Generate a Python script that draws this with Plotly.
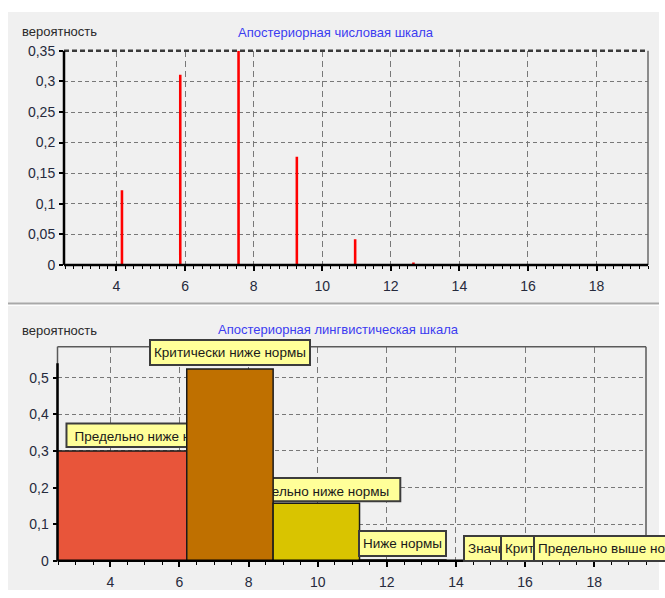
import plotly.graph_objects as go

# ---- posterior numeric scale (spikes) ----
num_x = [4.16, 5.86, 7.56, 9.26, 10.96, 12.66]
num_p = [0.122, 0.311, 0.350, 0.177, 0.042, 0.004]

# ---- posterior linguistic scale (interval bars) ----
terms = [
    "Предельно ниже нормы",
    "Критически ниже нормы",
    "Значительно ниже нормы",
    "Ниже нормы",
    "Значительно выше нормы",
    "Критически выше нормы",
    "Предельно выше нормы",
]
term_bounds = [1.21, 6.21, 8.71, 11.21, 13.71, 16.21, 18.71, 21.21]
term_p = [0.300, 0.524, 0.157, 0.002, 0.0, 0.0, 0.0]

x_ticks = [4, 6, 8, 10, 12, 14, 16, 18]
y_ticks_top = [0, 0.05, 0.1, 0.15, 0.2, 0.25, 0.3, 0.35]
y_ticks_bottom = [0, 0.1, 0.2, 0.3, 0.4, 0.5]

term_colors = ["#E8553A", "#BF7000", "#D9C400", "#9DBB2C", "#5FAF4A", "#3C8F6A", "#2F6F8F"]

W, H = 665, 598
FONT = "Liberation Sans, Arial, sans-serif"
PANEL = "#F0F0F0"
TXT = "#262A3C"
TAG_FILL = "#FFFF99"
TAG_LINE = "#3C3C3C"
TAG_FONT = dict(family=FONT, size=13.5, color="#1A1A1A")


def px_x(p):
    return p / W


def px_y(p):
    return 1 - p / H


def fmt(v):
    return f"{v:g}".replace(".", ",")


centers = [(a + b) / 2 for a, b in zip(term_bounds[:-1], term_bounds[1:])]
widths = [b - a for a, b in zip(term_bounds[:-1], term_bounds[1:])]

fig = go.Figure()

fig.add_trace(go.Bar(
    x=num_x, y=num_p, width=0.075,
    marker=dict(color="#FF0000", line=dict(width=0)),
    xaxis="x", yaxis="y", hoverinfo="x+y",
))

fig.add_trace(go.Bar(
    x=centers, y=term_p, width=widths,
    marker=dict(color=term_colors, line=dict(color="#1A1A1A", width=1.5)),
    xaxis="x2", yaxis="y2", text=terms, hoverinfo="text+y", textposition="none",
))

XR = [2.47, 19.5]
common_x = dict(
    range=XR, tickvals=x_ticks, ticktext=[str(v) for v in x_ticks],
    ticks="outside", ticklen=5, tickwidth=1.5, tickcolor="#000000",
    showline=False, zeroline=False,
    showgrid=True, gridcolor="#787878", gridwidth=1.2, griddash="6px,4px",
    tickfont=dict(family=FONT, size=14, color=TXT),
    ticklabelstandoff=3,
)
common_y = dict(
    ticks="outside", ticklen=4, tickwidth=1.5, tickcolor="#000000",
    showline=False, zeroline=False,
    showgrid=True, gridcolor="#787878", gridwidth=1.2, griddash="4px,3px",
    tickfont=dict(family=FONT, size=14, color=TXT),
    ticklabelstandoff=1,
)

top_dom_x = [px_x(64), px_x(648)]
top_dom_y = [px_y(264), px_y(44)]
bot_dom_x = [px_x(57.5), px_x(646)]
bot_dom_y = [px_y(568), px_y(348)]

fig.update_layout(
    width=W, height=H,
    margin=dict(l=0, r=0, t=0, b=0),
    paper_bgcolor="#FFFFFF",
    plot_bgcolor=PANEL,
    showlegend=False,
    separators=", ",
    xaxis=dict(domain=top_dom_x, anchor="y",
               minor=dict(dtick=0.25, tick0=0, ticks="outside", ticklen=3,
                          tickcolor="#000000", tickwidth=1, showgrid=False),
               **common_x),
    yaxis=dict(domain=top_dom_y, anchor="x", range=[0, 0.35],
               tickvals=y_ticks_top, ticktext=[fmt(v) for v in y_ticks_top],
               **common_y),
    xaxis2=dict(domain=bot_dom_x, anchor="y2",
                minor=dict(dtick=0.5, tick0=0, ticks="outside", ticklen=3,
                           tickcolor="#000000", tickwidth=1, showgrid=False),
                **common_x),
    yaxis2=dict(domain=bot_dom_y, anchor="x2", range=[0, 0.585],
                tickvals=y_ticks_bottom, ticktext=[fmt(v) for v in y_ticks_bottom],
                **common_y),
)

shapes = []
# window panel and separator between the two charts
shapes.append(dict(type="rect", xref="paper", yref="paper", layer="below",
                   x0=px_x(8), x1=px_x(659), y0=px_y(598), y1=px_y(4),
                   fillcolor=PANEL, line=dict(width=0)))
shapes.append(dict(type="line", xref="paper", yref="paper", layer="above",
                   x0=px_x(8), x1=px_x(659), y0=px_y(303.5), y1=px_y(303.5),
                   line=dict(color="#A8A8A8", width=2)))
shapes.append(dict(type="line", xref="paper", yref="paper", layer="above",
                   x0=px_x(8), x1=px_x(659), y0=px_y(305.5), y1=px_y(305.5),
                   line=dict(color="#FFFFFF", width=1)))

# frame of the numeric chart
shapes += [
    dict(type="line", xref="x domain", yref="y domain", x0=0, x1=1, y0=1, y1=1,
         line=dict(color="#3A3A3A", width=2.5, dash="5px,3px"), layer="above"),
    dict(type="line", xref="x domain", yref="y domain", x0=1, x1=1, y0=0, y1=1,
         line=dict(color="#6A6A6A", width=1.5), layer="above"),
    dict(type="line", xref="x domain", yref="y domain", x0=0, x1=0, y0=0, y1=1,
         line=dict(color="#000000", width=2.5), layer="above"),
    dict(type="line", xref="x domain", yref="y domain", x0=0, x1=1, y0=0, y1=0,
         line=dict(color="#000000", width=2.5), layer="above"),
]
# frame of the linguistic chart
shapes += [
    dict(type="line", xref="x2 domain", yref="y2 domain", x0=0, x1=1, y0=1, y1=1,
         line=dict(color="#5A5A5A", width=1.5), layer="above"),
    dict(type="line", xref="x2 domain", yref="y2 domain", x0=1, x1=1, y0=0, y1=1,
         line=dict(color="#5A5A5A", width=1.5), layer="above"),
    dict(type="line", xref="x2 domain", yref="y2 domain", x0=0, x1=0, y0=0, y1=1,
         line=dict(color="#5A5A5A", width=1.5), layer="above"),
    dict(type="line", xref="x2 domain", yref="y2", x0=0, x1=0, y0=0, y1=0.54,
         line=dict(color="#000000", width=2.5), layer="above"),
    dict(type="line", xref="x2 domain", yref="y2 domain", x0=0, x1=1, y0=0, y1=0,
         line=dict(color="#000000", width=2.5), layer="above"),
]

# term tags partly hidden behind neighbouring bars
tag_h = 0.064
tag_gap = 0.011
shapes.append(dict(
    type="rect", xref="x2", yref="y2", layer="between",
    x0=2.73, x1=7.3, y0=term_p[0] + tag_gap, y1=term_p[0] + tag_gap + tag_h,
    fillcolor=TAG_FILL, line=dict(color=TAG_LINE, width=2),
    label=dict(text=terms[0], textposition="middle left", padding=5, font=TAG_FONT),
))
shapes.append(dict(
    type="rect", xref="x2", yref="y2", layer="between",
    x0=7.4, x1=12.39, y0=term_p[2] + tag_gap * 0.5, y1=term_p[2] + tag_gap * 0.5 + tag_h,
    fillcolor=TAG_FILL, line=dict(color=TAG_LINE, width=2),
    label=dict(text=terms[2], textposition="middle right", padding=8, font=TAG_FONT),
))
fig.update_layout(shapes=shapes)

annotations = []
tag_style = dict(bgcolor=TAG_FILL, bordercolor=TAG_LINE, borderwidth=2, borderpad=3,
                 height=17, showarrow=False, font=TAG_FONT)
# tags drawn over everything
for i in (1, 3):
    annotations.append(dict(xref="x2", yref="y2", x=centers[i], y=term_p[i],
                            xanchor="center", yanchor="bottom", yshift=3,
                            text=terms[i], **tag_style))
tag_left = {4: 14.19, 5: 15.28, 6: 16.24}
for i, xl in tag_left.items():
    annotations.append(dict(xref="x2", yref="y2", x=xl, y=term_p[i],
                            xanchor="left", yanchor="bottom", yshift=-1,
                            text=terms[i], **tag_style))

# captions
cap_font = dict(family=FONT, size=13, color="#2A2A2A")
title_font = dict(family=FONT, size=13, color="#3C3CF0")
annotations += [
    dict(xref="paper", yref="paper", x=px_x(20), y=px_y(24), xanchor="left", yanchor="middle",
         text="вероятность", showarrow=False, font=cap_font),
    dict(xref="paper", yref="paper", x=px_x(336), y=px_y(25), xanchor="center", yanchor="middle",
         text="Апостериорная числовая шкала", showarrow=False, font=title_font),
    dict(xref="paper", yref="paper", x=px_x(20), y=px_y(331), xanchor="left", yanchor="middle",
         text="вероятность", showarrow=False, font=cap_font),
    dict(xref="paper", yref="paper", x=px_x(338), y=px_y(330), xanchor="center", yanchor="middle",
         text="Апостериорная лингвистическая шкала", showarrow=False, font=title_font),
]
fig.update_layout(annotations=annotations)

fig.write_html("out.html")
